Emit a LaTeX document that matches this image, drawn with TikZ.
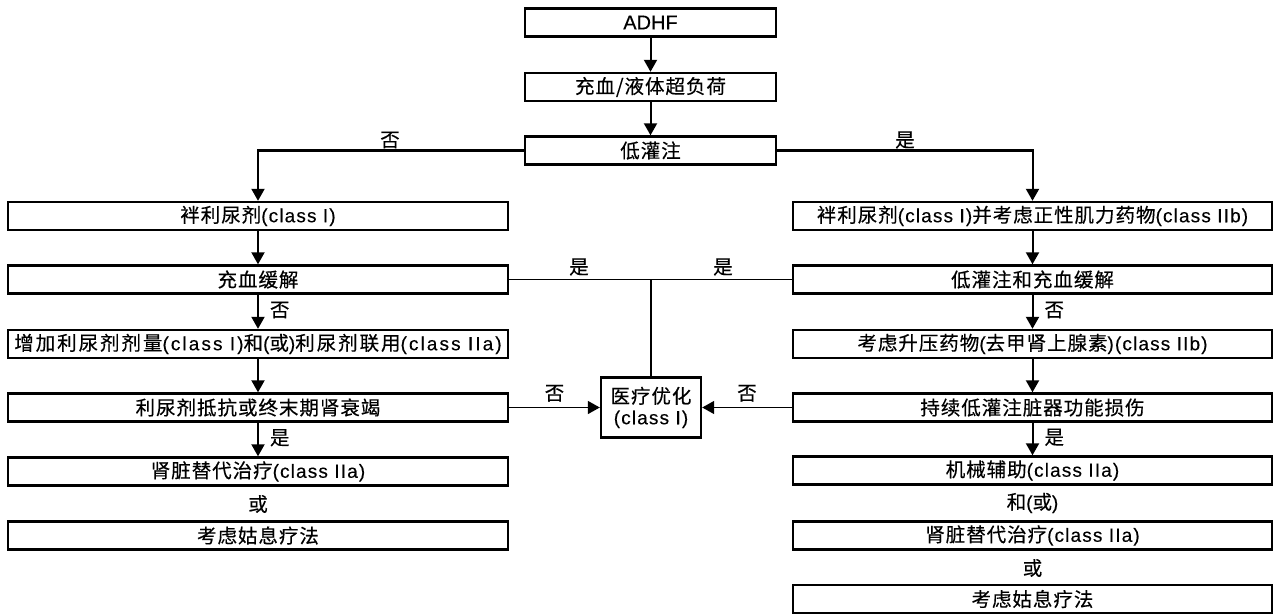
\documentclass[tikz,border=0pt]{standalone}
\usepackage{fontspec}
\setmainfont{Liberation Sans}[LetterSpace=6, FakeBold=0.3]
\newfontfamily\zhfont{Noto Sans CJK SC}[LetterSpace=5, FakeBold=0.4]
\newfontfamily\zhwidefont{Noto Sans CJK SC}[LetterSpace=10, FakeBold=0.4]
\newcommand\zh[1]{{\zhfont\fontsize{19.5}{22}\selectfont #1}}
\newcommand\zhw[1]{{\zhwidefont\fontsize{19.5}{22}\selectfont #1}}
\usetikzlibrary{arrows.meta}

\tikzset{
  stepbox/.style={draw, line width=2.4pt, inner sep=0pt, minimum height=28pt,
    font=\fontsize{19}{22}\selectfont},
  leftbox/.style={stepbox, minimum width=500pt},
  rightbox/.style={stepbox, minimum width=479pt},
  topbox/.style={stepbox, minimum width=251pt},
  flow/.style={line width=2pt, -{Triangle[width=13pt,length=12pt]}},
  thinline/.style={line width=1.5pt},
  note/.style={inner sep=0pt, font=\fontsize{19}{22}\selectfont},
}

\begin{document}
\begin{tikzpicture}[x=1pt, y=-1pt]
\useasboundingbox (0,0) rectangle (1282,615);

% main trunk
\node[topbox] (adhf) at (650.5,22.5) {\addfontfeatures{LetterSpace=0}\fontsize{20}{22}\selectfont ADHF};
\node[topbox] (cong) at (650.5,87) {\zh{充血/液体超负荷}};
\node[topbox] (hypo) at (650.5,150.5) {\zh{低灌注}};

% left column
\node[leftbox] (l1) at (258,216) {\zh{袢利尿剂}(class I)};
\node[leftbox] (l2) at (258,279.5) {\zh{充血缓解}};
\node[leftbox] (l3) at (258,344) {\addfontfeatures{LetterSpace=11}%
  \zhw{增加利尿剂剂量}(class I)\zhw{和}(\zhw{或})\zhw{利尿剂联用}(class IIa)};
\node[leftbox] (l4) at (258,407.5) {\zh{利尿剂抵抗或终末期肾衰竭}};
\node[leftbox] (l5) at (258,471.5) {\zh{肾脏替代治疗}(class IIa)};
\node[note] (lor) at (258,504) {\zh{或}};
\node[leftbox] (l6) at (258,535.5) {\zh{考虑姑息疗法}};

% right column
\node[rightbox] (r1) at (1032.5,216) {\zh{袢利尿剂}(class I)\zh{并考虑正性肌力药物}(class IIb)};
\node[rightbox] (r2) at (1032.5,279.5) {\zh{低灌注和充血缓解}};
\node[rightbox] (r3) at (1032.5,344) {\zh{考虑升压药物}(\zh{去甲肾上腺素})(class IIb)};
\node[rightbox] (r4) at (1032.5,407.5) {\zh{持续低灌注脏器功能损伤}};
\node[rightbox] (r5) at (1032.5,470.5) {\zh{机械辅助}(class IIa)};
\node[note] (rand) at (1032.5,503) {\zh{和}(\zh{或})};
\node[rightbox] (r6) at (1032.5,535.5) {\zh{肾脏替代治疗}(class IIa)};
\node[note] (ror) at (1032.5,568) {\zh{或}};
\node[rightbox] (r7) at (1032.5,599) {\zh{考虑姑息疗法}};

% centre
\node[stepbox, minimum width=100pt, minimum height=60pt, align=center] (opt) at (651,407.5)
  {\zh{医疗优化}\\[-1pt](class I)};

% connectors
\draw[flow] (adhf) -- (cong);
\draw[flow] (cong) -- (hypo);
\draw[flow] (hypo.west) -| (l1.north);
\draw[flow] (hypo.east) -| (r1.north);
\node[note] at (390,140) {\zh{否}};
\node[note] at (905,140) {\zh{是}};

\draw[flow] (l1) -- (l2);
\draw[flow] (l2) -- node[note, right=11pt, pos=0.45] {\zh{否}} (l3);
\draw[flow] (l3) -- (l4);
\draw[flow] (l4) -- node[note, right=11pt, pos=0.45] {\zh{是}} (l5);

\draw[flow] (r1) -- (r2);
\draw[flow] (r2) -- node[note, right=11pt, pos=0.45] {\zh{否}} (r3);
\draw[flow] (r3) -- (r4);
\draw[flow] (r4) -- node[note, right=11pt, pos=0.45] {\zh{是}} (r5);

\coordinate (junc) at (opt.north |- l2.east);
\draw[thinline] (l2.east) -- (r2.west);
\draw[thinline] (junc) -- (opt.north);
\node[note] at (579,267) {\zh{是}};
\node[note] at (723,267) {\zh{是}};

\draw[flow, line width=1.5pt] (l4.east) -- node[note, above=5pt] {\zh{否}} (opt.west);
\draw[flow, line width=1.5pt] (r4.west) -- node[note, above=5pt] {\zh{否}} (opt.east);
\end{tikzpicture}
\end{document}
